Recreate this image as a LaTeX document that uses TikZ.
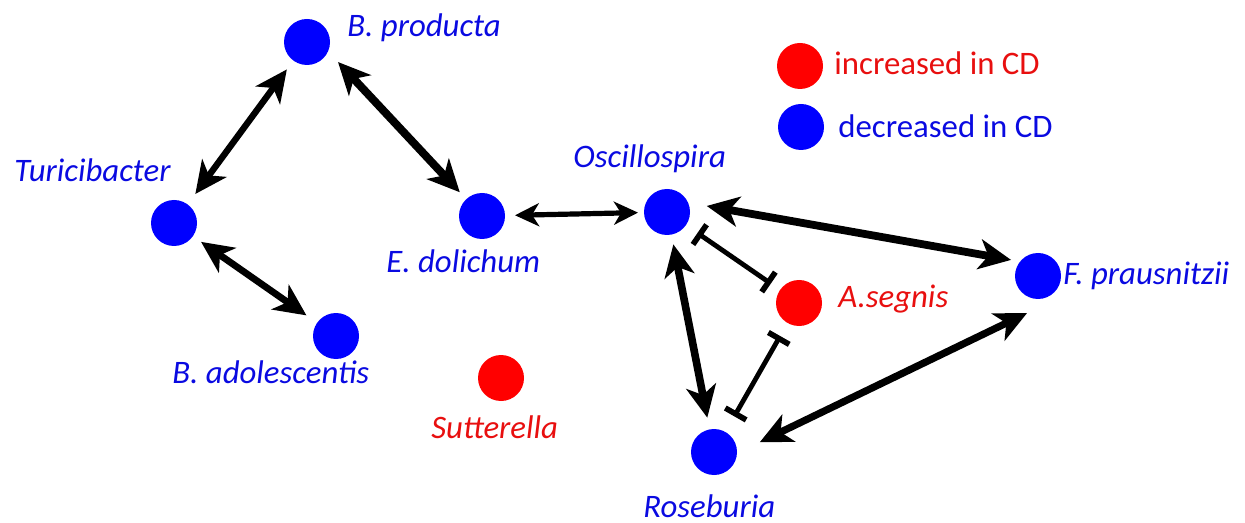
\documentclass[tikz,border=0pt]{standalone}
\usepackage{fontspec}
\setmainfont{Carlito}
\usetikzlibrary{arrows.meta,calc}
\definecolor{cblue}{RGB}{0,0,255}
\definecolor{tblue}{RGB}{10,10,225}
\definecolor{cred}{RGB}{255,0,0}
\definecolor{tred}{RGB}{232,15,15}
\tikzset{
  bigtip/.tip={Stealth[length=16pt,width=15pt,inset=4.5pt]},
  smalltip/.tip={Stealth[length=12pt,width=11.5pt,inset=3.5pt]},
  bartip/.tip={Bar[width=12pt,line width=2.8pt]}
}
\begin{document}
\begin{tikzpicture}[x=0.5pt,y=-0.5pt,
  dot/.style={circle,minimum size=23pt,inner sep=0pt,outer sep=0pt,fill=#1},
  lab/.style={anchor=base west,inner sep=0pt,font=\fontsize{16.4}{19}\selectfont\itshape,text=#1},
  leg/.style={anchor=base west,inner sep=0pt,font=\fontsize{16.4}{19}\selectfont,text=#1},
  both/.style={line width=#1,{bigtip}-{bigtip}},
  inh/.style={line width=2.4pt,{bartip}-{bartip}}]
\useasboundingbox (0,0) rectangle (1245,523);
% nodes
\node[dot=cblue] (BP) at (307,42) {};
\node[dot=cblue] (Tur) at (174,223) {};
\node[dot=cblue] (ED) at (482,216) {};
\node[dot=cblue] (BA) at (336,336) {};
\node[dot=cred] (Sut) at (501,378) {};
\node[dot=cblue] (Osc) at (667,212) {};
\node[dot=cred] (AS) at (799,303) {};
\node[dot=cblue] (FP) at (1038,276) {};
\node[dot=cblue] (Ros) at (714,452) {};
% labels
\node[lab=tblue] (lBP) at (347,37) {B. producta};
\node[lab=tblue] (lTur) at (14,181.5) {Turicibacter};
\node[lab=tblue] (lED) at (386,272.5) {E. dolichum};
\node[lab=tblue] (lBA) at (172,383) {B. adolescentis};
\node[lab=tred] (lSut) at (431,438) {Sutterella};
\node[lab=tblue] (lOsc) at (573,168) {Oscillospira};
\node[lab=tred] (lAS) at (838,307) {A.segnis};
\node[lab=tblue] (lFP) at (1063,285) {F. prausnitzii};
\node[lab=tblue] (lRos) at (643,517) {Roseburia};
% legend
\node[dot=cred] (legR) at (800,66) {};
\node[dot=cblue] (legB) at (801,127) {};
\node[leg=tred] (legRt) at (834,75) {increased in CD};
\node[leg=tblue] (legBt) at (838,138) {decreased in CD};
% connectors
\draw[both=3.2pt,shorten <=5.5pt,shorten >=6.5pt] (BP) -- (Tur);
\draw[both=4pt,shorten <=7.3pt,shorten >=4.75pt] (BP.-24) -- (ED);
\draw[both=3.4pt,shorten <=5pt,shorten >=6.5pt] (Tur) -- (BA);
\draw[line width=2.6pt,{smalltip}-{smalltip},shorten <=5pt,shorten >=3pt] (ED) -- (Osc);
\draw[both=3.9pt,shorten <=9.5pt,shorten >=4.6pt] (Osc.24) -- (FP.141);
\draw[both=3.8pt,shorten <=5pt,shorten >=6pt] (Osc) -- (Ros);
\draw[both=3.6pt,shorten <=12.7pt,shorten >=12.75pt] (Ros.-3) -- ($(FP.south)+(12,3)$);
\draw[inh,shorten <=7pt,shorten >=5.6pt] (Osc) -- (AS);
\draw[inh,shorten <=7.5pt,shorten >=9pt] (AS) -- (Ros);
\end{tikzpicture}
\end{document}
